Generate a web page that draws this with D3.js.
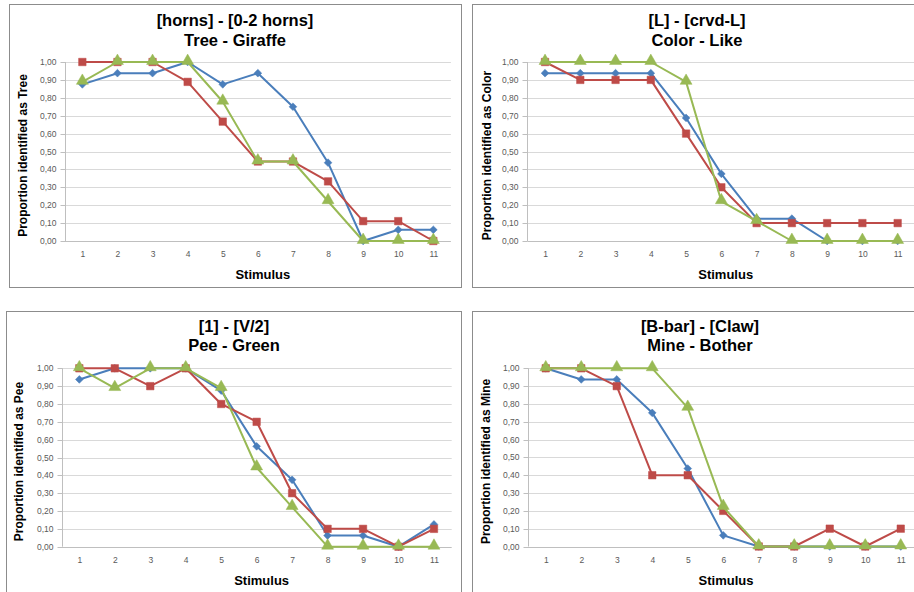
<!DOCTYPE html>
<html>
<head>
<meta charset="utf-8">
<script src="https://cdn.jsdelivr.net/npm/d3@7"></script>
<style>
  html, body { margin: 0; padding: 0; background: #fff; }
  svg { display: block; }
</style>
</head>
<body>
<svg id="chart" width="914" height="592"></svg>
<script>
// ---- Data ----
const stimuli = ["1","2","3","4","5","6","7","8","9","10","11"];
const yTicks = [0, 0.1, 0.2, 0.3, 0.4, 0.5, 0.6, 0.7, 0.8, 0.9, 1.0];

const titles1 = ["[horns] - [0-2 horns]", "[L] - [crvd-L]", "[1] - [V/2]", "[B-bar] - [Claw]"];
const titles2 = ["Tree - Giraffe", "Color - Like", "Pee - Green", "Mine - Bother"];
const yLabels = ["Proportion identified as Tree", "Proportion identified as Color",
                 "Proportion identified as Pee", "Proportion identified as Mine"];

const treeBlue  = [0.875, 0.9375, 0.9375, 1.0, 0.875, 0.9375, 0.75, 0.4375, 0, 0.0625, 0.0625];
const treeRed   = [1, 1, 1, 0.889, 0.667, 0.444, 0.444, 0.333, 0.111, 0.111, 0];
const treeGreen = [0.889, 1, 1, 1, 0.778, 0.444, 0.444, 0.222, 0, 0, 0];

const colorBlue  = [0.9375, 0.9375, 0.9375, 0.9375, 0.6875, 0.375, 0.125, 0.125, 0, 0, 0];
const colorRed   = [1, 0.9, 0.9, 0.9, 0.6, 0.3, 0.1, 0.1, 0.1, 0.1, 0.1];
const colorGreen = [1, 1, 1, 1, 0.889, 0.222, 0.111, 0, 0, 0, 0];

const peeBlue  = [0.9375, 1, 1, 1, 0.875, 0.5625, 0.375, 0.0625, 0.0625, 0, 0.125];
const peeRed   = [1, 1, 0.9, 1, 0.8, 0.7, 0.3, 0.1, 0.1, 0, 0.1];
const peeGreen = [1, 0.889, 1, 1, 0.889, 0.444, 0.222, 0, 0, 0, 0];

const mineBlue  = [1, 0.9375, 0.9375, 0.75, 0.4375, 0.0625, 0, 0, 0, 0, 0];
const mineRed   = [1, 1, 0.9, 0.4, 0.4, 0.2, 0, 0, 0.1, 0, 0.1];
const mineGreen = [1, 1, 1, 1, 0.778, 0.222, 0, 0, 0, 0, 0];

const panelSeries = [
  [treeBlue, treeRed, treeGreen],
  [colorBlue, colorRed, colorGreen],
  [peeBlue, peeRed, peeGreen],
  [mineBlue, mineRed, mineGreen]
];

// ---- Layout / style ----
const colors = ["#4a7ebb", "#be4b48", "#98b954"];
const symbols = [d3.symbolSquare, d3.symbolSquare, d3.symbolTriangle];
const symSizes = [30, 56, 62];
const symRot = [45, 0, 0];

const panels = [
  { bx: 9.5,   by: 4.5,   bw: 452, bh: 283, left: 64.8,  right: 450.9, top: 62,    bottom: 241,   titleX: 235, t1: 22,  t2: 42,  ylx: 24 },
  { bx: 472.5, by: 4.5,   bw: 460, bh: 283, left: 527.4, right: 915.3, top: 62,    bottom: 241,   titleX: 697, t1: 22,  t2: 42,  ylx: 488 },
  { bx: 6.5,   by: 311.5, bw: 455, bh: 300, left: 61.6,  right: 451.7, top: 368.3, bottom: 546.7, titleX: 234, t1: 328, t2: 347, ylx: 20 },
  { bx: 472.5, by: 311.5, bw: 460, bh: 300, left: 528,   right: 918.5, top: 368.3, bottom: 546.5, titleX: 700, t1: 328, t2: 347, ylx: 487 }
];

const svg = d3.select("#chart");
const fmt = d => d.toFixed(2).replace(".", ",");
const tf = "'Liberation Sans', Arial, sans-serif";

panels.forEach((p, i) => {
  const g = svg.append("g");
  g.append("rect").attr("x", p.bx).attr("y", p.by).attr("width", p.bw).attr("height", p.bh)
    .attr("fill", "#fff").attr("stroke", "#8c8c8c").attr("stroke-width", 1);

  const x = d3.scalePoint().domain(stimuli).range([p.left, p.right]).padding(0.5);
  const y = d3.scaleLinear().domain([0, 1]).range([p.bottom, p.top]);

  // gridlines
  g.append("g").selectAll("line").data(yTicks.filter(t => t > 0)).join("line")
    .attr("x1", p.left).attr("x2", p.right)
    .attr("y1", d => Math.round(y(d)) + 0.5).attr("y2", d => Math.round(y(d)) + 0.5)
    .attr("stroke", "#d9d9d9").attr("stroke-width", 1);

  // y axis
  const yAxis = d3.axisLeft(y).tickValues(yTicks).tickFormat(fmt).tickSize(5).tickPadding(4);
  const ya = g.append("g").attr("transform", `translate(${Math.round(p.left) + 0.5},0)`).call(yAxis);
  ya.select(".domain").attr("stroke", "#bfbfbf").attr("d", `M0,${p.top}V${p.bottom}`);
  ya.selectAll(".tick line").attr("stroke", "#bfbfbf");
  ya.selectAll(".tick text").attr("fill", "#595959").style("font-family", tf).style("font-size", "8.5px");
  ya.selectAll(".tick").attr("transform", d => `translate(0,${Math.round(y(d)) + 0.5})`);

  // x axis
  const xAxis = d3.axisBottom(x).tickSize(0).tickPadding(9);
  const xa = g.append("g").attr("transform", `translate(0,${Math.round(p.bottom) + 0.5})`).call(xAxis);
  xa.select(".domain").attr("stroke", "#bfbfbf").attr("d", `M${p.left},0H${p.right}`);
  xa.selectAll(".tick text").attr("fill", "#595959").style("font-family", tf).style("font-size", "8.5px");

  // titles
  g.append("text").attr("x", p.titleX).attr("y", p.t1).attr("text-anchor", "middle").attr("dominant-baseline", "middle")
    .style("font-family", tf).style("font-weight", "bold").style("font-size", "16.5px").attr("fill", "#000").text(titles1[i]);
  g.append("text").attr("x", p.titleX).attr("y", p.t2).attr("text-anchor", "middle").attr("dominant-baseline", "middle")
    .style("font-family", tf).style("font-weight", "bold").style("font-size", "16.5px").attr("fill", "#000").text(titles2[i]);

  // axis titles
  g.append("text").attr("x", (p.left + Math.min(p.right, 914)) / 2 + 5).attr("y", p.bottom + 35)
    .attr("text-anchor", "middle").attr("dominant-baseline", "middle")
    .style("font-family", tf).style("font-weight", "bold").style("font-size", "13px").attr("fill", "#000").text("Stimulus");
  g.append("text").attr("transform", `translate(${p.ylx},${(p.top + p.bottom) / 2 + 4}) rotate(-90)`)
    .attr("text-anchor", "middle").attr("dominant-baseline", "middle")
    .style("font-family", tf).style("font-weight", "bold").style("font-size", "12px").attr("fill", "#000").text(yLabels[i]);

  // series
  const line = d3.line().x((d, k) => x(stimuli[k])).y(d => y(d));
  panelSeries[i].forEach((vals, s) => {
    const sg = g.append("g");
    sg.append("path").attr("d", line(vals)).attr("fill", "none")
      .attr("stroke", colors[s]).attr("stroke-width", 2).attr("stroke-linejoin", "round");
    sg.selectAll("path.m").data(vals).join("path").attr("class", "m")
      .attr("d", d3.symbol().type(symbols[s]).size(symSizes[s]))
      .attr("transform", (d, k) => `translate(${x(stimuli[k])},${y(d) + (s === 2 ? -1 : 0)}) rotate(${symRot[s]})`)
      .attr("fill", colors[s]).attr("stroke", colors[s]).attr("stroke-width", 0.5);
  });
});
</script>
</body>
</html>
